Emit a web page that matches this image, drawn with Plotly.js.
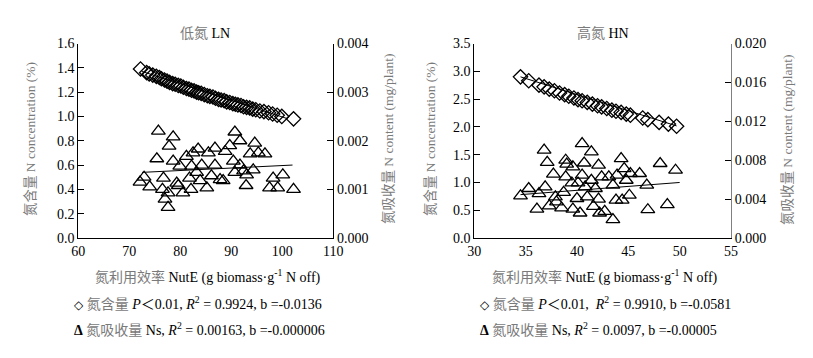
<!DOCTYPE html>
<html>
<head>
<meta charset="utf-8">
<script src="https://cdn.plot.ly/plotly-3.0.1.min.js"></script>
<style>html,body{margin:0;padding:0;background:#fff;}#chart{width:813px;height:358px;}</style>
</head>
<body>
<div id="chart"></div>
<script>
// ---- Low nitrogen (LN) panel data ----
const lnConcX = [72.2,73.4,73.9,74.6,75.3,75.9,76.3,76.9,77.4,77.9,78.5,79.0,79.6,80.1,80.6,81.2,81.7,82.2,82.7,83.2,83.6,84.1,84.7,85.3,85.8,86.4,86.9,87.5,88.0,88.6,89.1,89.7,90.3,90.8,91.3,91.9,92.4,93.0,93.6,94.2,94.8,95.6,96.4,97.3,98.1,99.0,99.9,102.2];
const lnConcY = [1.39,1.36,1.35,1.34,1.33,1.32,1.31,1.30,1.29,1.28,1.27,1.265,1.255,1.25,1.24,1.23,1.225,1.215,1.21,1.20,1.195,1.19,1.18,1.17,1.165,1.16,1.15,1.14,1.135,1.13,1.12,1.115,1.105,1.10,1.095,1.09,1.08,1.075,1.07,1.06,1.055,1.045,1.04,1.03,1.02,1.01,1.00,0.98];
const lnContX = [75.7,78.6,77.8,75.4,72.1,72.9,74.0,76.7,76.5,77.0,77.6,77.6,78.6,79.3,79.9,80.5,79.6,81.2,81.8,82.1,82.5,82.2,83.5,83.2,84.2,83.9,85.2,86.1,86.8,86.8,87.8,88.8,88.4,89.7,90.7,91.7,90.7,90.4,91.7,92.4,92.9,93.0,93.7,94.6,94.3,95.3,96.6,97.5,98.2,99.1,100.1,102.2,85.5];
const lnContY = [0.00220,0.00208,0.00189,0.00163,0.00115,0.00125,0.00105,0.00123,0.00100,0.00080,0.00063,0.00093,0.00158,0.00113,0.00148,0.00093,0.00108,0.00168,0.00123,0.00100,0.00175,0.00148,0.00183,0.00135,0.00150,0.00118,0.00103,0.00128,0.00185,0.00150,0.00120,0.00178,0.00118,0.00190,0.00218,0.00200,0.00135,0.00158,0.00150,0.00138,0.00108,0.00130,0.00173,0.00195,0.00140,0.00175,0.00173,0.00103,0.00123,0.00103,0.00130,0.00100,0.00175];
const lnConcFitX = [72.5,101.0];
const lnConcFitY = [1.37,0.982];
const lnContFitX = [72.5,102.0];
const lnContFitY = [0.00135,0.00150];

// ---- High nitrogen (HN) panel data ----
const hnConcX = [34.5,35.3,36.3,36.8,37.3,37.8,38.3,38.8,39.2,39.7,40.1,40.5,41.0,41.5,42.0,42.4,42.9,43.4,43.8,44.3,44.8,45.2,46.4,46.9,48.0,48.9,49.7];
const hnConcY = [2.90,2.83,2.75,2.72,2.68,2.65,2.61,2.58,2.55,2.52,2.49,2.47,2.44,2.41,2.38,2.36,2.33,2.30,2.28,2.26,2.23,2.21,2.16,2.13,2.08,2.05,2.01];
const hnContX = [34.5,35.3,36.1,36.3,36.8,37.1,36.9,37.3,37.7,37.9,38.0,38.5,38.7,38.9,39.0,38.9,39.5,39.6,39.6,40.0,40.1,40.3,40.5,40.5,40.7,40.8,41.0,41.4,41.4,41.6,41.8,42.1,42.1,42.2,42.4,42.7,43.1,43.5,43.5,43.8,43.9,44.3,44.4,44.6,44.8,45.1,45.2,46.1,46.8,46.9,48.1,48.8,49.6];
const hnContY = [0.00434,0.00509,0.00297,0.00457,0.00903,0.00777,0.00526,0.00331,0.00657,0.00423,0.00371,0.00309,0.00469,0.00800,0.00760,0.00629,0.00566,0.00731,0.00297,0.00406,0.00566,0.00257,0.00971,0.00646,0.00771,0.00526,0.00423,0.00886,0.00594,0.00326,0.00509,0.00749,0.00400,0.00257,0.00629,0.00274,0.00629,0.00189,0.00543,0.00389,0.00646,0.00817,0.00389,0.00714,0.00594,0.00440,0.00663,0.00663,0.00543,0.00291,0.00766,0.00343,0.00697];
const hnConcFitX = [34.5,49.7];
const hnConcFitY = [2.90,2.017];
const hnContFitX = [34.5,50.0];
const hnContFitY = [0.00446,0.00571];

// ---- Text ----
const panelTitles = ['低氮', '高氮'];
const panelCodes = ['LN', 'HN'];
const xTitleCn = '氮利用效率';
const yLeftCn = '氮含量';
const yRightCn = '氮吸收量';
const legendLN = ['<i>P</i>＜0.01, <i>R</i><sup>2</sup> = 0.9924, b =-0.0136', 'Ns, <i>R</i><sup>2</sup> = 0.00163, b =-0.000006'];
const legendHN = ['<i>P</i>＜0.01,  <i>R</i><sup>2</sup> = 0.9910, b =-0.0581', 'Ns, <i>R</i><sup>2</sup> = 0.0097, b =-0.00005'];

const FONT = 'Liberation Serif, Noto Sans CJK SC, serif';
const GREY = '#7a7a7a';
const g = s => '<span style="color:' + GREY + '">' + s + '</span>';
const diamondGlyph = '<b><span style="font-family:DejaVu Sans;font-size:12px">◇</span></b>';
const deltaGlyph = '<b>Δ</b>';

const diamond = {symbol:'diamond-open', size:11, color:'#000', line:{width:1.3, color:'#000'}};
const tri = {symbol:'triangle-up-open', size:12, color:'#000', line:{width:1.3, color:'#000'}};

const traces = [
  {x:lnConcX, y:lnConcY, xaxis:'x', yaxis:'y', mode:'markers', marker:diamond, type:'scatter'},
  {x:lnConcFitX, y:lnConcFitY, xaxis:'x', yaxis:'y', mode:'lines', line:{color:'#000', width:1}, type:'scatter'},
  {x:lnContX, y:lnContY, xaxis:'x', yaxis:'y2', mode:'markers', marker:tri, type:'scatter'},
  {x:lnContFitX, y:lnContFitY, xaxis:'x', yaxis:'y2', mode:'lines', line:{color:'#000', width:1}, type:'scatter'},
  {x:hnConcX, y:hnConcY, xaxis:'x2', yaxis:'y3', mode:'markers', marker:diamond, type:'scatter'},
  {x:hnConcFitX, y:hnConcFitY, xaxis:'x2', yaxis:'y3', mode:'lines', line:{color:'#000', width:1}, type:'scatter'},
  {x:hnContX, y:hnContY, xaxis:'x2', yaxis:'y4', mode:'markers', marker:tri, type:'scatter'},
  {x:hnContFitX, y:hnContFitY, xaxis:'x2', yaxis:'y4', mode:'lines', line:{color:'#000', width:1}, type:'scatter'}
];

const yDom = [1 - 238/358, 1 - 43.5/358];
const tickFont = {family:FONT, size:14, color:'#000'};
const baseAx = {showgrid:false, zeroline:false, showline:true, linecolor:'#000', linewidth:1, tickfont:tickFont, fixedrange:true, autorange:false};
const yAx = Object.assign({}, baseAx, {ticks:'inside', ticklen:6, tickcolor:'#000', tickwidth:1});

const layout = {
  width:813, height:358,
  margin:{l:0, r:0, t:0, b:0},
  paper_bgcolor:'#fff', plot_bgcolor:'#fff',
  showlegend:false,
  font:{family:FONT, size:14, color:'#000'},
  xaxis: Object.assign({}, baseAx, {domain:[78.3/813, 333.3/813], range:[60,110], dtick:10, tick0:60, ticks:'', anchor:'y'}),
  yaxis: Object.assign({}, yAx, {domain:yDom, range:[0,1.6], dtick:0.2, tick0:0, tickformat:'.1f', anchor:'x'}),
  yaxis2: Object.assign({}, yAx, {overlaying:'y', side:'right', anchor:'x', range:[0,0.004], dtick:0.001, tick0:0, tickformat:'.3f'}),
  xaxis2: Object.assign({}, baseAx, {domain:[474.3/813, 731/813], range:[30,55], dtick:5, tick0:30, ticks:'', anchor:'y3'}),
  yaxis3: Object.assign({}, yAx, {domain:yDom, range:[0,3.5], dtick:0.5, tick0:0, tickformat:'.1f', anchor:'x2'}),
  yaxis4: Object.assign({}, yAx, {overlaying:'y3', side:'right', anchor:'x2', range:[0,0.02], dtick:0.004, tick0:0, tickformat:'.3f', linecolor:'#808080'}),
  annotations: []
};

function ann(text, px, py, opts) {
  return Object.assign({text:text, xref:'paper', yref:'paper', x:px/813, y:1 - py/358, showarrow:false,
    xanchor:'center', yanchor:'middle', font:{family:FONT, size:14, color:'#000'}}, opts || {});
}

const A = layout.annotations;
// panel titles
A.push(ann(g(panelTitles[0]) + ' ' + panelCodes[0], 205, 33));
A.push(ann(g(panelTitles[1]) + ' ' + panelCodes[1], 603, 33));
// y titles
const yLeftTxt = yLeftCn + ' N concentration (%)';
const yRightTxt = yRightCn + ' N content (mg/plant)';
const yFont = {family:FONT, size:13.5, color:GREY};
A.push(ann(yLeftTxt, 30, 139, {textangle:-90, font:yFont}));
A.push(ann(yRightTxt, 388, 139, {textangle:-90, font:yFont}));
A.push(ann(yLeftTxt, 430, 139, {textangle:-90, font:yFont}));
A.push(ann(yRightTxt, 788, 140, {textangle:-90, font:yFont}));
// x titles
const xTxt = g(xTitleCn) + ' NutE (g biomass·g<sup>-1</sup> N off)';
A.push(ann(xTxt, 208, 276));
A.push(ann(xTxt, 605, 276));
// legend rows
A.push(ann(diamondGlyph + ' ' + g('氮含量') + ' ' + legendLN[0], 72, 303, {xanchor:'left'}));
A.push(ann(deltaGlyph + ' ' + g('氮吸收量') + ' ' + legendLN[1], 72, 329, {xanchor:'left'}));
A.push(ann(diamondGlyph + ' ' + g('氮含量') + ' ' + legendHN[0], 478, 303, {xanchor:'left'}));
A.push(ann(deltaGlyph + ' ' + g('氮吸收量') + ' ' + legendHN[1], 478, 329, {xanchor:'left'}));

Plotly.newPlot('chart', traces, layout, {displayModeBar:false, staticPlot:true});
</script>
</body>
</html>
